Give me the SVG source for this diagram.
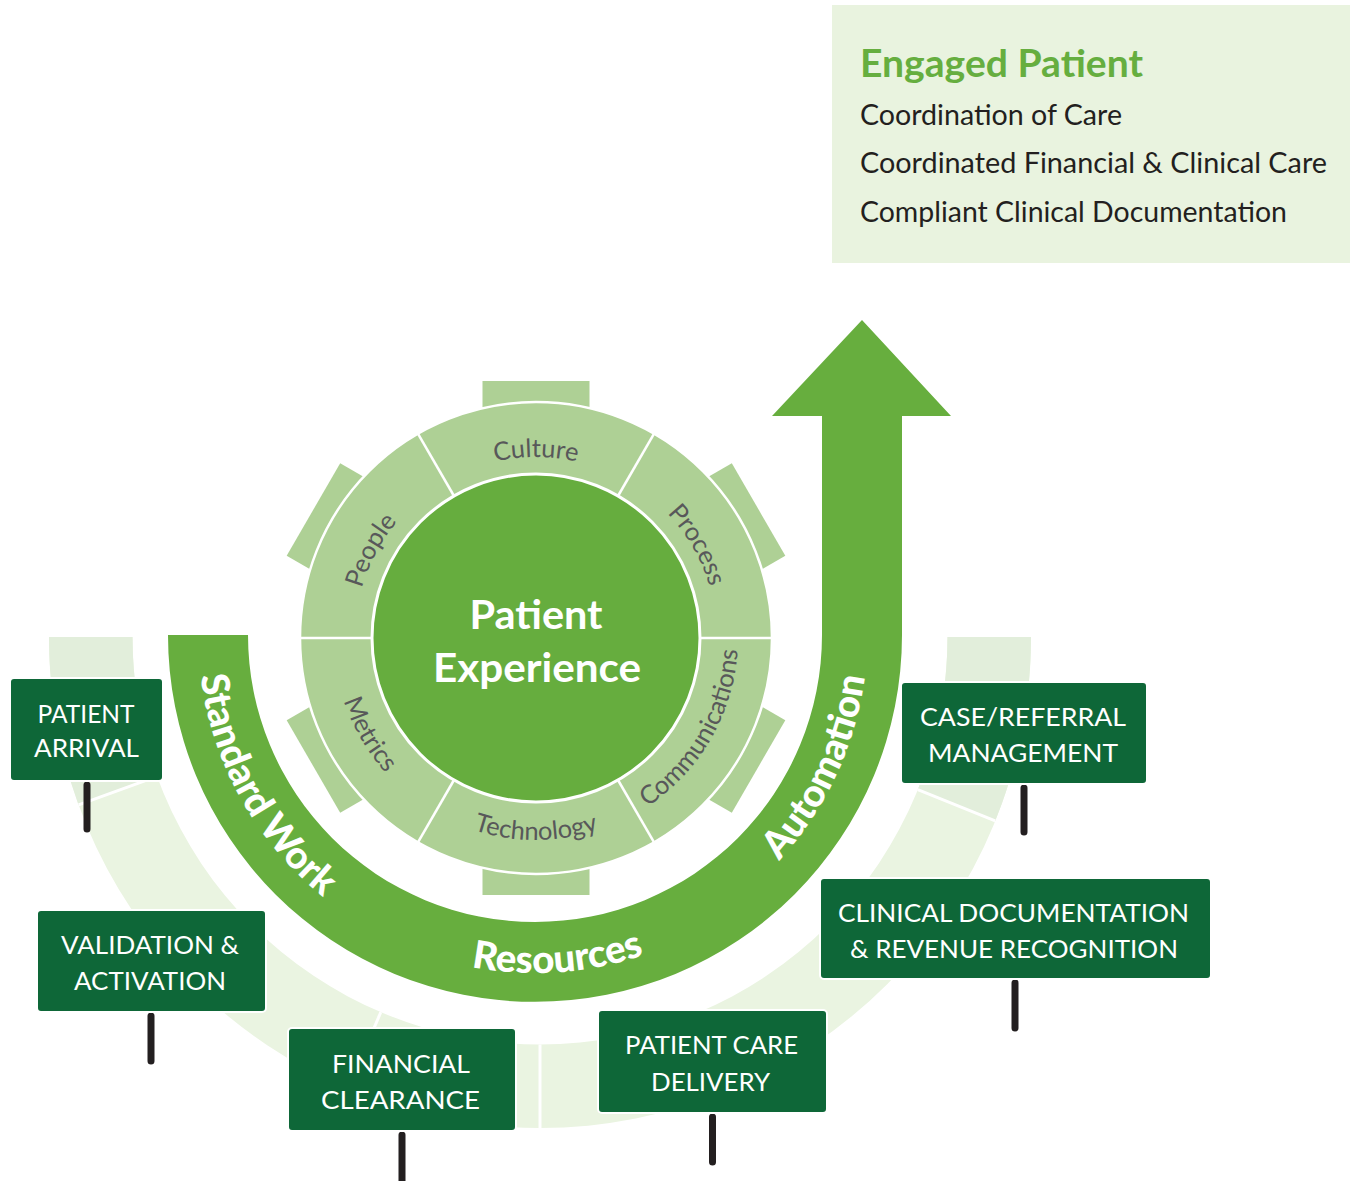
<svg xmlns="http://www.w3.org/2000/svg" width="1350" height="1181" viewBox="0 0 1350 1181">
<style>
.pale{fill:#eaf4e1}
.paleD{fill:#e2eedb}
.div{stroke:#ffffff;stroke-width:3}
.ring{fill:#aed095}
.sign rect.b{fill:#0e6738;stroke:#ffffff;stroke-width:2}
.sign text{font-family:Lato,"Open Sans",sans-serif;font-size:25.5px;fill:#ffffff;text-anchor:middle}
.post{stroke:#231f20;stroke-width:7;stroke-linecap:round}
.lbl{font-family:Lato,"Open Sans",sans-serif;font-size:25.5px;fill:#58585a}
.band{font-family:Lato,"Open Sans",sans-serif;font-size:38.5px;font-weight:900;fill:#ffffff}
.hd{font-family:Lato,"Open Sans",sans-serif;font-size:38px;font-weight:700;fill:#66ae3f}
.li{font-family:Lato,"Open Sans",sans-serif;font-size:29px;fill:#231f20}
.ctr{font-family:Lato,"Open Sans",sans-serif;font-size:41px;font-weight:700;fill:#ffffff;text-anchor:middle}
</style>
<defs>
<path id="pCulture" d="M355,638 A181,181 0 0 1 717,638"/>
<path id="pPeople" d="M451,798 A181,181 0 0 1 621,478"/>
<path id="pProcess" d="M445.5,481.2 A181,181 0 0 1 626.5,794.8"/>
<path id="pTech" d="M334,638 A202,202 0 0 0 738,638"/>
<path id="pMetrics" d="M435,463 A202,202 0 0 0 637,813"/>
<path id="pComm" d="M435,813 A202,202 0 0 0 637,463"/>
<path id="pStd" d="M371.1,339.4 A338,338 0 0 0 698.9,930.6"/>
<path id="pRes" d="M197.8,658.6 A338,338 0 0 0 872.2,611.4"/>
<path id="pAuto" d="M392.2,941.3 A338,338 0 0 0 677.8,328.7"/>
</defs>

<!-- Engaged patient box -->
<g id="engaged">
<rect x="832" y="5" width="518" height="258" fill="#e9f3df"/>
<text class="hd" x="860" y="77" textLength="283" lengthAdjust="spacingAndGlyphs">Engaged Patient</text>
<text class="li" x="860" y="125" textLength="262" lengthAdjust="spacingAndGlyphs">Coordination of Care</text>
<text class="li" x="860" y="173" textLength="467" lengthAdjust="spacingAndGlyphs">Coordinated Financial &amp; Clinical Care</text>
<text class="li" x="860" y="222" textLength="427" lengthAdjust="spacingAndGlyphs">Compliant Clinical Documentation</text>
</g>

<!-- pale road -->
<g id="road">
<path class="pale" d="M49,637 A491,491 0 0 0 1031,637 L947.5,637 A407.5,407.5 0 0 1 132.5,637 Z"/>
<path class="paleD" d="M49,637 A491,491 0 0 0 78.6,804.9 L157.1,776.4 A407.5,407.5 0 0 1 132.5,637 Z"/>
<path class="paleD" d="M1031,637 A491,491 0 0 1 995.2,820.9 L917.8,789.7 A407.5,407.5 0 0 0 947.5,637 Z"/>
<line class="div" x1="78.6" y1="804.9" x2="157.1" y2="776.4"/>
<line class="div" x1="348.2" y1="1089" x2="380.8" y2="1012.1"/>
<line class="div" x1="540" y1="1044.5" x2="540" y2="1128"/>
<line class="div" x1="917.8" y1="789.7" x2="995.2" y2="820.9"/>
</g>

<!-- band arrow -->
<g id="band">
<path fill="#67ae3e" d="M168,635 A367,367 0 0 0 902,635 L902,416 L951,416 L862,320 L772,416 L822,416 L822,635 A287,287 0 0 1 248,635 Z"/>
<text class="band"><textPath href="#pStd" startOffset="50%" text-anchor="middle">Standard Work</textPath></text>
<text class="band"><textPath href="#pRes" startOffset="50%" text-anchor="middle">Resources</textPath></text>
<text class="band"><textPath href="#pAuto" startOffset="50%" text-anchor="middle">Automation</textPath></text>
</g>

<!-- wheel -->
<g id="wheel">
<g transform="translate(536,638)" class="ring">
<rect x="-53.5" y="-257" width="107" height="40"/>
<rect x="-53.5" y="-257" width="107" height="40" transform="rotate(60)"/>
<rect x="-53.5" y="-257" width="107" height="40" transform="rotate(120)"/>
<rect x="-53.5" y="-257" width="107" height="40" transform="rotate(180)"/>
<rect x="-53.5" y="-257" width="107" height="40" transform="rotate(240)"/>
<rect x="-53.5" y="-257" width="107" height="40" transform="rotate(300)"/>
<circle r="236" stroke="#ffffff" stroke-width="2.5"/>
<g stroke="#ffffff" stroke-width="2.5">
<line x1="164" y1="0" x2="237" y2="0"/>
<line x1="-164" y1="0" x2="-237" y2="0"/>
<line x1="82" y1="142" x2="118.5" y2="205.2"/>
<line x1="-82" y1="142" x2="-118.5" y2="205.2"/>
<line x1="82" y1="-142" x2="118.5" y2="-205.2"/>
<line x1="-82" y1="-142" x2="-118.5" y2="-205.2"/>
</g>
<circle r="164" fill="#66ad3e" stroke="#ffffff" stroke-width="3"/>
</g>
<text class="lbl"><textPath href="#pCulture" startOffset="50%" text-anchor="middle">Culture</textPath></text>
<text class="lbl"><textPath href="#pPeople" startOffset="50%" text-anchor="middle">People</textPath></text>
<text class="lbl"><textPath href="#pProcess" startOffset="50%" text-anchor="middle">Process</textPath></text>
<text class="lbl"><textPath href="#pTech" startOffset="50%" text-anchor="middle">Technology</textPath></text>
<text class="lbl"><textPath href="#pMetrics" startOffset="50%" text-anchor="middle">Metrics</textPath></text>
<text class="lbl"><textPath href="#pComm" startOffset="50%" text-anchor="middle">Communications</textPath></text>
<text class="ctr" x="536" y="629" textLength="133" lengthAdjust="spacingAndGlyphs">Patient</text>
<text class="ctr" x="537" y="682" textLength="208" lengthAdjust="spacingAndGlyphs">Experience</text>
</g>

<!-- posts (connectors) -->
<g id="posts">
<line class="post" x1="87" y1="785" x2="87" y2="829"/>
<line class="post" x1="151" y1="1016" x2="151" y2="1061"/>
<line class="post" x1="402" y1="1135" x2="402" y2="1181"/>
<line class="post" x1="712.5" y1="1117" x2="712.5" y2="1162"/>
<line class="post" x1="1015" y1="983" x2="1015" y2="1028"/>
<line class="post" x1="1024" y1="788" x2="1024" y2="832"/>
</g>

<g id="sign-arrival" class="sign">
<rect class="b" x="10" y="678" width="153" height="103" rx="4"/>
<text x="86" y="723" textLength="97" lengthAdjust="spacingAndGlyphs">PATIENT</text>
<text x="86.5" y="757" textLength="105" lengthAdjust="spacingAndGlyphs">ARRIVAL</text>
</g>
<g id="sign-validation" class="sign">
<rect class="b" x="37" y="910" width="229" height="102" rx="4"/>
<text x="150" y="954" textLength="178" lengthAdjust="spacingAndGlyphs">VALIDATION &amp;</text>
<text x="150" y="990" textLength="152" lengthAdjust="spacingAndGlyphs">ACTIVATION</text>
</g>
<g id="sign-financial" class="sign">
<rect class="b" x="288" y="1028" width="228" height="103" rx="4"/>
<text x="401" y="1073" textLength="138" lengthAdjust="spacingAndGlyphs">FINANCIAL</text>
<text x="400.5" y="1109" textLength="159" lengthAdjust="spacingAndGlyphs">CLEARANCE</text>
</g>
<g id="sign-care" class="sign">
<rect class="b" x="598" y="1010" width="229" height="103" rx="4"/>
<text x="711.5" y="1054" textLength="173" lengthAdjust="spacingAndGlyphs">PATIENT CARE</text>
<text x="710.5" y="1091" textLength="119" lengthAdjust="spacingAndGlyphs">DELIVERY</text>
</g>
<g id="sign-clinical" class="sign">
<rect class="b" x="820" y="878" width="391" height="101" rx="4"/>
<text x="1013.5" y="922" textLength="351" lengthAdjust="spacingAndGlyphs">CLINICAL DOCUMENTATION</text>
<text x="1014" y="957.5" textLength="328" lengthAdjust="spacingAndGlyphs">&amp; REVENUE RECOGNITION</text>
</g>
<g id="sign-case" class="sign">
<rect class="b" x="901" y="682" width="246" height="102" rx="4"/>
<text x="1023" y="726" textLength="206" lengthAdjust="spacingAndGlyphs">CASE/REFERRAL</text>
<text x="1023" y="762" textLength="190" lengthAdjust="spacingAndGlyphs">MANAGEMENT</text>
</g>
</svg>
